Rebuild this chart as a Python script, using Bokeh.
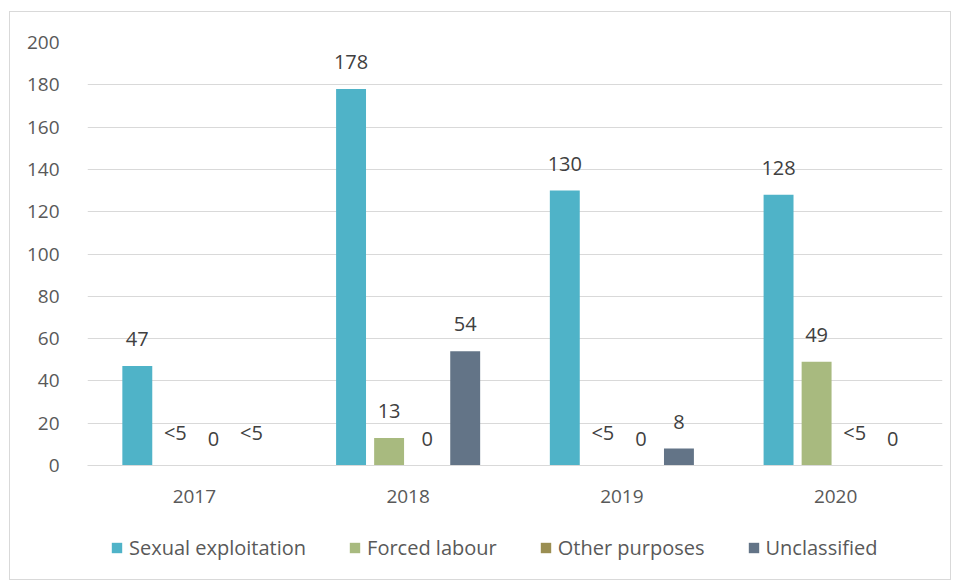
from bokeh.plotting import figure
from bokeh.layouts import column
from bokeh.models import ColumnDataSource, FactorRange, Legend, LegendItem, FixedTicker, Range1d
from bokeh.transform import dodge
from bokeh.core.properties import value
from bokeh.embed import file_html
from bokeh.resources import INLINE

years = ["2017", "2018", "2019", "2020"]
series = ["Sexual exploitation", "Forced labour", "Other purposes", "Unclassified"]
sexual_exploitation = ["47", "178", "130", "128"]
forced_labour = ["<5", "13", "<5", "49"]
other_purposes = ["0", "0", "0", "<5"]
unclassified = ["<5", "54", "8", "0"]
y_ticks = [0, 20, 40, 60, 80, 100, 120, 140, 160, 180, 200]

colors = ["#4FB3C8", "#A8BA7F", "#9A8E52", "#637487"]
offsets = [-0.267, -0.089, 0.089, 0.267]
FONT = "Open Sans"
TXT = "#404040"
TICK = "#595959"
GRID = "#d9d9d9"

def to_height(s):
    return 0.0 if s.startswith("<") else float(s)

p = figure(x_range=FactorRange(*years), y_range=Range1d(0, 200),
           width=940, height=520, output_backend="svg", toolbar_location=None,
           min_border_left=77, min_border_right=8, min_border_top=30, min_border_bottom=67)
p.outline_line_color = None
p.background_fill_color = "white"
p.border_fill_color = "white"

# legend strip (shares the category axis; proxy bars have zero width so only the legend shows)
q = figure(width=940, height=47, x_range=p.x_range, y_range=Range1d(-1000, -999),
           x_axis_type=None, y_axis_type=None, output_backend="svg", toolbar_location=None,
           min_border=0)
q.outline_line_color = None
q.background_fill_color = "white"
q.border_fill_color = "white"

items = []
for name, vals, col, off in zip(series, [sexual_exploitation, forced_labour, other_purposes, unclassified], colors, offsets):
    src = ColumnDataSource(dict(year=years, top=[to_height(v) for v in vals], label=vals))
    p.vbar(x=dodge("year", off, range=p.x_range), top="top", width=0.14, source=src,
           fill_color=col, line_color=None)
    p.text(x=dodge("year", off, range=p.x_range), y="top", text="label", source=src,
           text_align="center", text_baseline="bottom", y_offset=-20,
           text_font=value(FONT), text_font_size="20px", text_color=TXT)
    r = q.vbar(x=dodge("year", off, range=q.x_range), top="top", width=0, source=src,
               fill_color=col, line_color=None)
    items.append(LegendItem(label=name, renderers=[r]))

p.yaxis.ticker = FixedTicker(ticks=y_ticks)
p.yaxis.axis_line_color = None
p.yaxis.major_tick_line_color = None
p.yaxis.minor_tick_line_color = None
p.yaxis.major_label_standoff = 22
p.yaxis.major_label_text_font = FONT
p.yaxis.major_label_text_font_size = "19px"
p.yaxis.major_label_text_color = TICK

p.xaxis.axis_line_color = GRID
p.xaxis.major_tick_line_color = None
p.xaxis.minor_tick_line_color = None
p.xaxis.major_label_standoff = 18
p.xaxis.major_label_text_font = FONT
p.xaxis.major_label_text_font_size = "19px"
p.xaxis.major_label_text_color = TICK

p.xgrid.grid_line_color = None
p.ygrid.grid_line_color = GRID
p.ygrid.grid_line_width = 1

legend = Legend(items=items, orientation="horizontal", location=(23, 18),
                glyph_width=13, glyph_height=13, label_standoff=6, spacing=42,
                padding=0, margin=0, border_line_color=None, background_fill_alpha=0,
                label_text_font=FONT, label_text_font_size="20px", label_text_color=TICK)
q.add_layout(legend, "center")

layout = column(p, q, spacing=0)
layout.margin = (11, 0, 0, 9)
layout.styles = {"border": "1px solid #d9d9d9"}

open("out.html", "w").write(file_html(layout, INLINE))
